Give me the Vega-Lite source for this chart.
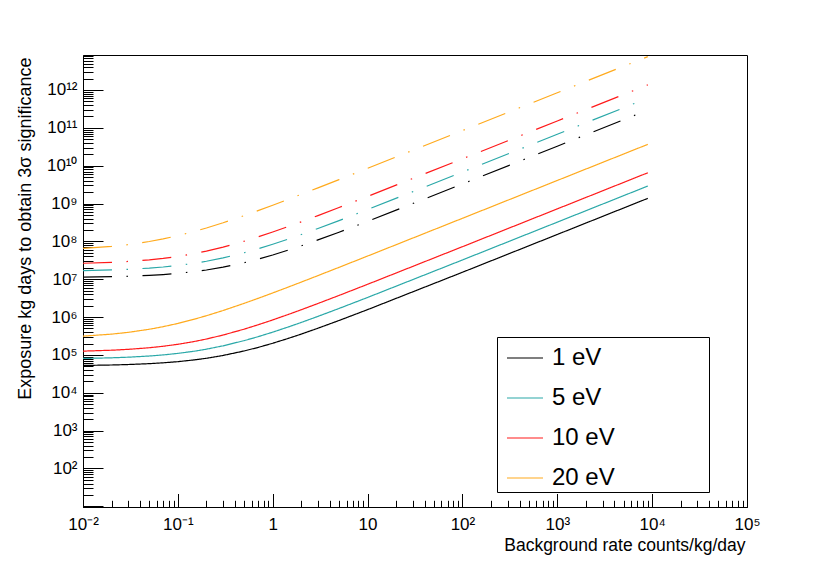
{
  "$schema": "https://vega.github.io/schema/vega-lite/v6.json",
  "width": 664,
  "height": 452,
  "autosize": {"type": "none"},
  "padding": {"left": 83, "top": 55, "right": 83, "bottom": 56},
  "background": "white",
  "data": {
    "values": [
      {"rate": 0.01, "exposure": 52700, "source": "1 eV", "style": "solid"},
      {"rate": 0.02, "exposure": 54200, "source": "1 eV", "style": "solid"},
      {"rate": 0.03, "exposure": 55800, "source": "1 eV", "style": "solid"},
      {"rate": 0.05, "exposure": 58800, "source": "1 eV", "style": "solid"},
      {"rate": 0.07, "exposure": 61900, "source": "1 eV", "style": "solid"},
      {"rate": 0.1, "exposure": 66400, "source": "1 eV", "style": "solid"},
      {"rate": 0.15, "exposure": 74000, "source": "1 eV", "style": "solid"},
      {"rate": 0.2, "exposure": 81600, "source": "1 eV", "style": "solid"},
      {"rate": 0.3, "exposure": 96900, "source": "1 eV", "style": "solid"},
      {"rate": 0.5, "exposure": 127300, "source": "1 eV", "style": "solid"},
      {"rate": 0.7, "exposure": 157700, "source": "1 eV", "style": "solid"},
      {"rate": 1, "exposure": 203400, "source": "1 eV", "style": "solid"},
      {"rate": 1.5, "exposure": 279500, "source": "1 eV", "style": "solid"},
      {"rate": 2, "exposure": 355600, "source": "1 eV", "style": "solid"},
      {"rate": 3, "exposure": 507800, "source": "1 eV", "style": "solid"},
      {"rate": 5, "exposure": 812200, "source": "1 eV", "style": "solid"},
      {"rate": 10, "exposure": 1573200, "source": "1 eV", "style": "solid"},
      {"rate": 100, "exposure": 15270000, "source": "1 eV", "style": "solid"},
      {"rate": 1000, "exposure": 152250000, "source": "1 eV", "style": "solid"},
      {"rate": 9000, "exposure": 1370000000, "source": "1 eV", "style": "solid"},

      {"rate": 0.01, "exposure": 80700, "source": "5 eV", "style": "solid"},
      {"rate": 0.02, "exposure": 83900, "source": "5 eV", "style": "solid"},
      {"rate": 0.03, "exposure": 87200, "source": "5 eV", "style": "solid"},
      {"rate": 0.05, "exposure": 93600, "source": "5 eV", "style": "solid"},
      {"rate": 0.07, "exposure": 100100, "source": "5 eV", "style": "solid"},
      {"rate": 0.1, "exposure": 109700, "source": "5 eV", "style": "solid"},
      {"rate": 0.15, "exposure": 125800, "source": "5 eV", "style": "solid"},
      {"rate": 0.2, "exposure": 141900, "source": "5 eV", "style": "solid"},
      {"rate": 0.3, "exposure": 174200, "source": "5 eV", "style": "solid"},
      {"rate": 0.5, "exposure": 238600, "source": "5 eV", "style": "solid"},
      {"rate": 0.7, "exposure": 303000, "source": "5 eV", "style": "solid"},
      {"rate": 1, "exposure": 399700, "source": "5 eV", "style": "solid"},
      {"rate": 1.5, "exposure": 560800, "source": "5 eV", "style": "solid"},
      {"rate": 2, "exposure": 721900, "source": "5 eV", "style": "solid"},
      {"rate": 3, "exposure": 1044100, "source": "5 eV", "style": "solid"},
      {"rate": 5, "exposure": 1688500, "source": "5 eV", "style": "solid"},
      {"rate": 10, "exposure": 3299500, "source": "5 eV", "style": "solid"},
      {"rate": 100, "exposure": 32300000, "source": "5 eV", "style": "solid"},
      {"rate": 1000, "exposure": 322300000, "source": "5 eV", "style": "solid"},
      {"rate": 9000, "exposure": 2900000000, "source": "5 eV", "style": "solid"},

      {"rate": 0.01, "exposure": 126000, "source": "10 eV", "style": "solid"},
      {"rate": 0.02, "exposure": 133200, "source": "10 eV", "style": "solid"},
      {"rate": 0.03, "exposure": 140500, "source": "10 eV", "style": "solid"},
      {"rate": 0.05, "exposure": 154900, "source": "10 eV", "style": "solid"},
      {"rate": 0.07, "exposure": 169400, "source": "10 eV", "style": "solid"},
      {"rate": 0.1, "exposure": 191000, "source": "10 eV", "style": "solid"},
      {"rate": 0.15, "exposure": 227100, "source": "10 eV", "style": "solid"},
      {"rate": 0.2, "exposure": 263200, "source": "10 eV", "style": "solid"},
      {"rate": 0.3, "exposure": 335500, "source": "10 eV", "style": "solid"},
      {"rate": 0.5, "exposure": 479900, "source": "10 eV", "style": "solid"},
      {"rate": 0.7, "exposure": 624300, "source": "10 eV", "style": "solid"},
      {"rate": 1, "exposure": 841000, "source": "10 eV", "style": "solid"},
      {"rate": 1.5, "exposure": 1202100, "source": "10 eV", "style": "solid"},
      {"rate": 2, "exposure": 1563200, "source": "10 eV", "style": "solid"},
      {"rate": 3, "exposure": 2285400, "source": "10 eV", "style": "solid"},
      {"rate": 5, "exposure": 3729800, "source": "10 eV", "style": "solid"},
      {"rate": 10, "exposure": 7340800, "source": "10 eV", "style": "solid"},
      {"rate": 100, "exposure": 72340000, "source": "10 eV", "style": "solid"},
      {"rate": 1000, "exposure": 722100000, "source": "10 eV", "style": "solid"},
      {"rate": 9000, "exposure": 6500000000, "source": "10 eV", "style": "solid"},

      {"rate": 0.01, "exposure": 313700, "source": "20 eV", "style": "solid"},
      {"rate": 0.02, "exposure": 354300, "source": "20 eV", "style": "solid"},
      {"rate": 0.03, "exposure": 395000, "source": "20 eV", "style": "solid"},
      {"rate": 0.05, "exposure": 476400, "source": "20 eV", "style": "solid"},
      {"rate": 0.07, "exposure": 557700, "source": "20 eV", "style": "solid"},
      {"rate": 0.1, "exposure": 679700, "source": "20 eV", "style": "solid"},
      {"rate": 0.15, "exposure": 883100, "source": "20 eV", "style": "solid"},
      {"rate": 0.2, "exposure": 1086400, "source": "20 eV", "style": "solid"},
      {"rate": 0.3, "exposure": 1493100, "source": "20 eV", "style": "solid"},
      {"rate": 0.5, "exposure": 2306500, "source": "20 eV", "style": "solid"},
      {"rate": 0.7, "exposure": 3119900, "source": "20 eV", "style": "solid"},
      {"rate": 1, "exposure": 4340000, "source": "20 eV", "style": "solid"},
      {"rate": 1.5, "exposure": 6373500, "source": "20 eV", "style": "solid"},
      {"rate": 2, "exposure": 8407000, "source": "20 eV", "style": "solid"},
      {"rate": 3, "exposure": 12474000, "source": "20 eV", "style": "solid"},
      {"rate": 5, "exposure": 20608000, "source": "20 eV", "style": "solid"},
      {"rate": 10, "exposure": 40940000, "source": "20 eV", "style": "solid"},
      {"rate": 100, "exposure": 407000000, "source": "20 eV", "style": "solid"},
      {"rate": 1000, "exposure": 4067000000, "source": "20 eV", "style": "solid"},
      {"rate": 9000, "exposure": 36600000000, "source": "20 eV", "style": "solid"},

      {"rate": 0.01, "exposure": 1.133e7, "source": "1 eV", "style": "dashdot"},
      {"rate": 0.02, "exposure": 1.165e7, "source": "1 eV", "style": "dashdot"},
      {"rate": 0.03, "exposure": 1.200e7, "source": "1 eV", "style": "dashdot"},
      {"rate": 0.05, "exposure": 1.264e7, "source": "1 eV", "style": "dashdot"},
      {"rate": 0.07, "exposure": 1.331e7, "source": "1 eV", "style": "dashdot"},
      {"rate": 0.1, "exposure": 1.428e7, "source": "1 eV", "style": "dashdot"},
      {"rate": 0.15, "exposure": 1.591e7, "source": "1 eV", "style": "dashdot"},
      {"rate": 0.2, "exposure": 1.754e7, "source": "1 eV", "style": "dashdot"},
      {"rate": 0.3, "exposure": 2.083e7, "source": "1 eV", "style": "dashdot"},
      {"rate": 0.5, "exposure": 2.737e7, "source": "1 eV", "style": "dashdot"},
      {"rate": 0.7, "exposure": 3.391e7, "source": "1 eV", "style": "dashdot"},
      {"rate": 1, "exposure": 4.373e7, "source": "1 eV", "style": "dashdot"},
      {"rate": 1.5, "exposure": 6.009e7, "source": "1 eV", "style": "dashdot"},
      {"rate": 2, "exposure": 7.645e7, "source": "1 eV", "style": "dashdot"},
      {"rate": 3, "exposure": 1.092e8, "source": "1 eV", "style": "dashdot"},
      {"rate": 5, "exposure": 1.746e8, "source": "1 eV", "style": "dashdot"},
      {"rate": 10, "exposure": 3.382e8, "source": "1 eV", "style": "dashdot"},
      {"rate": 100, "exposure": 3.283e9, "source": "1 eV", "style": "dashdot"},
      {"rate": 1000, "exposure": 3.273e10, "source": "1 eV", "style": "dashdot"},
      {"rate": 9000, "exposure": 2.946e11, "source": "1 eV", "style": "dashdot"},

      {"rate": 0.01, "exposure": 1.695e7, "source": "5 eV", "style": "dashdot"},
      {"rate": 0.02, "exposure": 1.762e7, "source": "5 eV", "style": "dashdot"},
      {"rate": 0.03, "exposure": 1.831e7, "source": "5 eV", "style": "dashdot"},
      {"rate": 0.05, "exposure": 1.966e7, "source": "5 eV", "style": "dashdot"},
      {"rate": 0.07, "exposure": 2.102e7, "source": "5 eV", "style": "dashdot"},
      {"rate": 0.1, "exposure": 2.304e7, "source": "5 eV", "style": "dashdot"},
      {"rate": 0.15, "exposure": 2.642e7, "source": "5 eV", "style": "dashdot"},
      {"rate": 0.2, "exposure": 2.980e7, "source": "5 eV", "style": "dashdot"},
      {"rate": 0.3, "exposure": 3.658e7, "source": "5 eV", "style": "dashdot"},
      {"rate": 0.5, "exposure": 5.011e7, "source": "5 eV", "style": "dashdot"},
      {"rate": 0.7, "exposure": 6.363e7, "source": "5 eV", "style": "dashdot"},
      {"rate": 1, "exposure": 8.394e7, "source": "5 eV", "style": "dashdot"},
      {"rate": 1.5, "exposure": 1.178e8, "source": "5 eV", "style": "dashdot"},
      {"rate": 2, "exposure": 1.516e8, "source": "5 eV", "style": "dashdot"},
      {"rate": 3, "exposure": 2.193e8, "source": "5 eV", "style": "dashdot"},
      {"rate": 5, "exposure": 3.546e8, "source": "5 eV", "style": "dashdot"},
      {"rate": 10, "exposure": 6.929e8, "source": "5 eV", "style": "dashdot"},
      {"rate": 100, "exposure": 6.783e9, "source": "5 eV", "style": "dashdot"},
      {"rate": 1000, "exposure": 6.768e10, "source": "5 eV", "style": "dashdot"},
      {"rate": 9000, "exposure": 6.09e11, "source": "5 eV", "style": "dashdot"},

      {"rate": 0.01, "exposure": 2.646e7, "source": "10 eV", "style": "dashdot"},
      {"rate": 0.02, "exposure": 2.797e7, "source": "10 eV", "style": "dashdot"},
      {"rate": 0.03, "exposure": 2.951e7, "source": "10 eV", "style": "dashdot"},
      {"rate": 0.05, "exposure": 3.253e7, "source": "10 eV", "style": "dashdot"},
      {"rate": 0.07, "exposure": 3.557e7, "source": "10 eV", "style": "dashdot"},
      {"rate": 0.1, "exposure": 4.011e7, "source": "10 eV", "style": "dashdot"},
      {"rate": 0.15, "exposure": 4.769e7, "source": "10 eV", "style": "dashdot"},
      {"rate": 0.2, "exposure": 5.527e7, "source": "10 eV", "style": "dashdot"},
      {"rate": 0.3, "exposure": 7.046e7, "source": "10 eV", "style": "dashdot"},
      {"rate": 0.5, "exposure": 1.008e8, "source": "10 eV", "style": "dashdot"},
      {"rate": 0.7, "exposure": 1.311e8, "source": "10 eV", "style": "dashdot"},
      {"rate": 1, "exposure": 1.766e8, "source": "10 eV", "style": "dashdot"},
      {"rate": 1.5, "exposure": 2.524e8, "source": "10 eV", "style": "dashdot"},
      {"rate": 2, "exposure": 3.283e8, "source": "10 eV", "style": "dashdot"},
      {"rate": 3, "exposure": 4.799e8, "source": "10 eV", "style": "dashdot"},
      {"rate": 5, "exposure": 7.833e8, "source": "10 eV", "style": "dashdot"},
      {"rate": 10, "exposure": 1.542e9, "source": "10 eV", "style": "dashdot"},
      {"rate": 100, "exposure": 1.519e10, "source": "10 eV", "style": "dashdot"},
      {"rate": 1000, "exposure": 1.516e11, "source": "10 eV", "style": "dashdot"},
      {"rate": 9000, "exposure": 1.365e12, "source": "10 eV", "style": "dashdot"},

      {"rate": 0.01, "exposure": 6.525e7, "source": "20 eV", "style": "dashdot"},
      {"rate": 0.02, "exposure": 7.369e7, "source": "20 eV", "style": "dashdot"},
      {"rate": 0.03, "exposure": 8.216e7, "source": "20 eV", "style": "dashdot"},
      {"rate": 0.05, "exposure": 9.909e7, "source": "20 eV", "style": "dashdot"},
      {"rate": 0.07, "exposure": 1.160e8, "source": "20 eV", "style": "dashdot"},
      {"rate": 0.1, "exposure": 1.414e8, "source": "20 eV", "style": "dashdot"},
      {"rate": 0.15, "exposure": 1.837e8, "source": "20 eV", "style": "dashdot"},
      {"rate": 0.2, "exposure": 2.260e8, "source": "20 eV", "style": "dashdot"},
      {"rate": 0.3, "exposure": 3.106e8, "source": "20 eV", "style": "dashdot"},
      {"rate": 0.5, "exposure": 4.798e8, "source": "20 eV", "style": "dashdot"},
      {"rate": 0.7, "exposure": 6.489e8, "source": "20 eV", "style": "dashdot"},
      {"rate": 1, "exposure": 9.027e8, "source": "20 eV", "style": "dashdot"},
      {"rate": 1.5, "exposure": 1.326e9, "source": "20 eV", "style": "dashdot"},
      {"rate": 2, "exposure": 1.749e9, "source": "20 eV", "style": "dashdot"},
      {"rate": 3, "exposure": 2.595e9, "source": "20 eV", "style": "dashdot"},
      {"rate": 5, "exposure": 4.286e9, "source": "20 eV", "style": "dashdot"},
      {"rate": 10, "exposure": 8.516e9, "source": "20 eV", "style": "dashdot"},
      {"rate": 100, "exposure": 8.466e10, "source": "20 eV", "style": "dashdot"},
      {"rate": 1000, "exposure": 8.459e11, "source": "20 eV", "style": "dashdot"},
      {"rate": 9000, "exposure": 7.613e12, "source": "20 eV", "style": "dashdot"}
    ]
  },
  "mark": {"type": "line", "strokeWidth": 1.2, "clip": true},
  "encoding": {
    "x": {
      "field": "rate",
      "type": "quantitative",
      "scale": {"type": "log", "domain": [0.01, 100000], "nice": false},
      "axis": {
        "title": "Background rate counts/kg/day",
        "titleX": 662,
        "titleY": 43.5,
        "titleAlign": "right",
        "titleBaseline": "alphabetic",
        "titleAnchor": null,
        "titleFontSize": 17.5,
        "values": [0.01, 0.02, 0.03, 0.04, 0.05, 0.06, 0.07, 0.08, 0.09,
                   0.1, 0.2, 0.3, 0.4, 0.5, 0.6, 0.7, 0.8, 0.9,
                   1, 2, 3, 4, 5, 6, 7, 8, 9,
                   10, 20, 30, 40, 50, 60, 70, 80, 90,
                   100, 200, 300, 400, 500, 600, 700, 800, 900,
                   1000, 2000, 3000, 4000, 5000, 6000, 7000, 8000, 9000,
                   10000, 20000, 30000, 40000, 50000, 60000, 70000, 80000, 90000, 100000],
        "tickSize": {"condition": {"test": "abs(log(datum.value)/LN10 - round(log(datum.value)/LN10)) < 0.001", "value": -13.5}, "value": -6.7},
        "labelExpr": "abs(log(datum.value)/LN10 - round(log(datum.value)/LN10)) < 0.001 ? ['10⁻²','10⁻¹','1','10','10²','10³','10⁴','10⁵'][round(log(datum.value)/LN10) + 2] : ''",
        "labelBaseline": "alphabetic",
        "labelPadding": 36
      }
    },
    "y": {
      "field": "exposure",
      "type": "quantitative",
      "scale": {"type": "log", "domain": [9.6, 8.4e12], "nice": false},
      "axis": {
        "title": "Exposure kg days to obtain 3σ significance",
        "titleX": -53,
        "titleY": 2,
        "titleAlign": "right",
        "titleBaseline": "alphabetic",
        "titleAnchor": null,
        "values": [10, 20, 30, 40, 50, 60, 70, 80, 90,
                   1e2, 2e2, 3e2, 4e2, 5e2, 6e2, 7e2, 8e2, 9e2,
                   1e3, 2e3, 3e3, 4e3, 5e3, 6e3, 7e3, 8e3, 9e3,
                   1e4, 2e4, 3e4, 4e4, 5e4, 6e4, 7e4, 8e4, 9e4,
                   1e5, 2e5, 3e5, 4e5, 5e5, 6e5, 7e5, 8e5, 9e5,
                   1e6, 2e6, 3e6, 4e6, 5e6, 6e6, 7e6, 8e6, 9e6,
                   1e7, 2e7, 3e7, 4e7, 5e7, 6e7, 7e7, 8e7, 9e7,
                   1e8, 2e8, 3e8, 4e8, 5e8, 6e8, 7e8, 8e8, 9e8,
                   1e9, 2e9, 3e9, 4e9, 5e9, 6e9, 7e9, 8e9, 9e9,
                   1e10, 2e10, 3e10, 4e10, 5e10, 6e10, 7e10, 8e10, 9e10,
                   1e11, 2e11, 3e11, 4e11, 5e11, 6e11, 7e11, 8e11, 9e11,
                   1e12, 2e12, 3e12, 4e12, 5e12, 6e12, 7e12, 8e12],
        "tickSize": {"condition": {"test": "abs(log(datum.value)/LN10 - round(log(datum.value)/LN10)) < 0.001", "value": -20}, "value": -10},
        "labelExpr": "abs(log(datum.value)/LN10 - round(log(datum.value)/LN10)) < 0.001 ? ['','','10²','10³','10⁴','10⁵','10⁶','10⁷','10⁸','10⁹','10¹⁰','10¹¹','10¹²'][round(log(datum.value)/LN10)] : ''",
        "labelPadding": 26
      }
    },
    "color": {
      "field": "source",
      "type": "nominal",
      "scale": {
        "domain": ["1 eV", "5 eV", "10 eV", "20 eV"],
        "range": ["#000000", "#2aa8a8", "#ff1a1a", "#ffaa1d"]
      },
      "legend": {
        "orient": "none",
        "legendX": 414,
        "legendY": 282,
        "title": null,
        "symbolType": "stroke",
        "symbolSize": 1296,
        "symbolStrokeWidth": 1.2,
        "symbolOffset": 7,
        "labelFontSize": 24,
        "labelOffset": 8,
        "labelLimit": 400,
        "rowPadding": 9,
        "padding": 2,
        "strokeColor": "black",
        "fillColor": "white",
        "labelExpr": "datum.label + '\u00a0\u00a0\u00a0\u00a0\u00a0\u00a0\u00a0\u00a0\u00a0\u00a0\u00a0\u2800'"
      }
    },
    "strokeDash": {
      "field": "style",
      "type": "nominal",
      "scale": {"domain": ["solid", "dashdot"], "range": [[1, 0], [29, 14.5, 1.5, 14.5]]},
      "legend": null
    }
  },
  "config": {
    "font": "Liberation Sans",
    "view": {"stroke": "black", "strokeWidth": 1},
    "axis": {
      "grid": false,
      "domainColor": "black",
      "domainWidth": 1,
      "tickColor": "black",
      "tickWidth": 1,
      "labelColor": "black",
      "labelFontSize": 17,
      "labelFlush": false,
      "labelOverlap": false,
      "labelBound": false,
      "titleColor": "black",
      "titleFontSize": 18,
      "titleFontWeight": "normal"
    },
    "legend": {"labelColor": "black", "labelFont": "Liberation Sans"}
  }
}
